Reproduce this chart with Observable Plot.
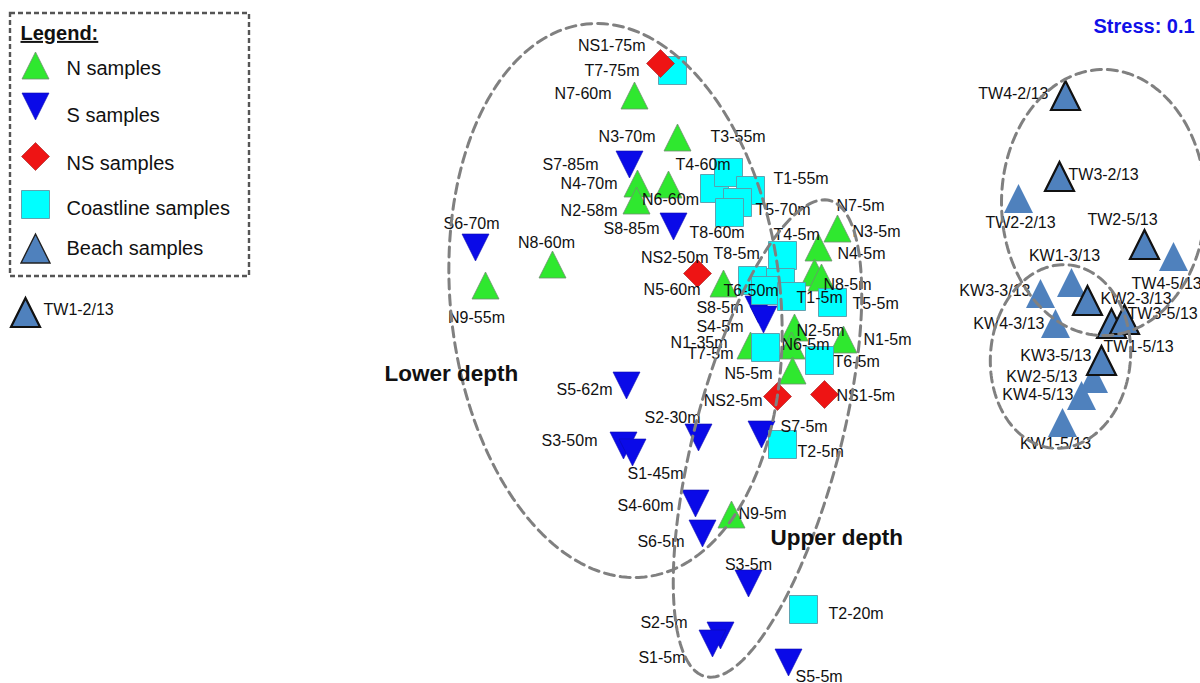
<!DOCTYPE html>
<html><head><meta charset="utf-8">
<script src="https://cdn.jsdelivr.net/npm/d3@7"></script>
<script src="https://cdn.jsdelivr.net/npm/@observablehq/plot@0.6"></script>
<style>html,body{margin:0;padding:0;background:#fff;overflow:hidden}</style>
</head><body><div id="chart"></div>
<script>
// ---- NMDS ordination values (in picture units) ----
const nNames = ["N7-60m","N3-70m","N4-70m","N2-58m","N6-60m","N8-60m","N9-55m","N5-60m","N1-35m",
                "N7-5m","N4-5m","N8-5m","N3-5m","N2-5m","N6-5m","N1-5m","N5-5m","N9-5m"];
const nX = [634,677,637,636,668,552,485,723,750, 837,818,814,821,794,791,843,792,731];
const nY = [ 95,137,183,200,184,264,285,283,345, 228,247,272,277,327,345,339,370,514];

const sNames = ["S7-85m","S8-85m","S6-70m","S5-62m","S3-50m","S1-45m","S2-30m","S4-60m",
                "S6-5m","S8-5m","S4-5m","S7-5m","S3-5m","S2-5m","S1-5m","S5-5m"];
const sX = [629,673,475,626,623,632,698,695, 702,758,763,761,748,720,712,788];
const sY = [164,226,247,385,445,452,437,503, 533,309,319,434,583,635,643,662];

const nsNames = ["NS1-75m","NS2-50m","NS2-5m","NS1-5m"];
const nsX = [660,697,777,824];
const nsY = [ 63,273,396,394];

const tNames = ["T7-75m","T4-60m","T3-55m","T1-55m","T5-70m","T8-60m",
                "T4-5m","T8-5m","T3-5m","T6-50m","T1-5m","T5-5m","T7-5m","T6-5m","T2-5m","T2-20m"];
const tX = [672,714,728,750,737,729, 782,752,780,765,791,832,765,819,782,803];
const tY = [ 70,188,172,190,202,212, 255,280,282,290,296,302,347,360,444,609];

const bNames = ["TW1-2/13","TW4-2/13","TW3-2/13","TW2-2/13","TW2-5/13","TW4-5/13",
                "KW1-3/13","KW3-3/13","KW2-3/13","KW4-3/13","TW1-5/13","TW3-5/13",
                "KW3-5/13","KW2-5/13","KW4-5/13","KW1-5/13"];
const bX = [ 25,1065,1059,1018,1144,1173,1071,1040,1087,1055,1111,1124,1101,1093,1081,1062];
const bY = [312,  95, 176, 198, 244, 256, 282, 293, 300, 323, 323, 319, 360, 378, 395, 422];
const bOutlined = ["TW1-2/13","TW4-2/13","TW3-2/13","TW2-5/13","KW2-3/13","TW1-5/13","TW3-5/13","KW3-5/13"];

const legendLabels = ["N samples","S samples","NS samples","Coastline samples","Beach samples"];
const groupNames = ["Lower depth","Upper depth"];
const stressText = "Stress: 0.1";

// ---- layout (label placement relative to each point: anchor, dx, dy) ----
const labelLayout = {
  "N7-60m":["end",-23,-2],"N3-70m":["end",-22,-1],"N4-70m":["end",-20,0],"N2-58m":["end",-19,10],
  "N6-60m":["middle",2,15],"N8-60m":["middle",-6,-22],"N9-55m":["middle",-9,32],"N5-60m":["end",-23,6],
  "N1-35m":["end",-23,-3],"N7-5m":["start",-1,-23],"N4-5m":["start",19,6],"N8-5m":["start",9,12],
  "N3-5m":["start",31,-46],"N2-5m":["start",2,3],"N6-5m":["start",-10,-1],"N1-5m":["start",20,0],
  "N5-5m":["end",-20,3],"N9-5m":["start",7,-1],
  "S7-85m":["end",-31,0],"S8-85m":["end",-14,2],"S6-70m":["middle",-4,-24],"S5-62m":["end",-14,4],
  "S3-50m":["end",-26,-5],"S1-45m":["start",-5,21],"S2-30m":["middle",-26,-20],"S4-60m":["end",-22,2],
  "S6-5m":["end",-18,8],"S8-5m":["end",-15,-2],"S4-5m":["end",-20,7],"S7-5m":["start",19,-8],
  "S3-5m":["middle",0,-19],"S2-5m":["end",-33,-13],"S1-5m":["end",-27,14],"S5-5m":["start",7,14],
  "NS1-75m":["end",-15,-18],"NS2-50m":["end",11,-16],"NS2-5m":["end",-15,4],"NS1-5m":["start",12,1],
  "T7-75m":["end",-33,0],"T3-55m":["start",-18,-36],"T4-60m":["start",-39,-24],"T1-55m":["start",23,-12],
  "T5-70m":["start",18,7],"T8-60m":["start",-40,20],"T4-5m":["start",-9,-21],"T8-5m":["start",-39,-27],
  "T6-50m":["start",-42,0],"T1-5m":["start",5,1],"T5-5m":["start",20,1],"T7-5m":["end",-32,6],
  "T6-5m":["start",14,1],"T2-5m":["start",15,7],"T2-20m":["start",25,4],
  "TW1-2/13":["start",18,-3],"TW4-2/13":["end",-17,-2],"TW3-2/13":["start",9,-2],"TW2-2/13":["middle",2,24],
  "TW2-5/13":["middle",-22,-25],"TW4-5/13":["start",-42,27],"KW1-3/13":["middle",-7,-27],
  "KW3-3/13":["end",-10,-3],"KW2-3/13":["start",13,-2],"KW4-3/13":["end",-11,0],"TW1-5/13":["middle",27,23],
  "TW3-5/13":["start",3,-6],"KW3-5/13":["end",-10,-5],"KW2-5/13":["end",-16,-2],"KW4-5/13":["end",-8,-1],
  "KW1-5/13":["middle",-7,21]
};
const ellipses = [ // cx, cy, rx, ry, rotation(deg)
  {id:"lower", cx:615, cy:300, rx:165, ry:278, rot:-6},
  {id:"upper", cx:767, cy:438, rx:73,  ry:246, rot:14.7},
  {id:"tw",    cx:1103,cy:202, rx:102, ry:133, rot:0},
  {id:"kw",    cx:1060,cy:356, rx:70,  ry:92,  rot:5}
];
const annotations = [
  {text: groupNames[0], x:384, y:373, anchor:"start"},
  {text: groupNames[1], x:770, y:537, anchor:"start"}
];
const legendSymY = [65,106,156,204,248];
const legendTxtY = [68,115,163,208,248];

// ---- build tables ----
const mk = (names, xs, ys, g) => names.map((n,i)=>({name:n, x:xs[i], y:ys[i], g}));
const N = mk(nNames,nX,nY,"N"), S = mk(sNames,sX,sY,"S"), NS = mk(nsNames,nsX,nsY,"NS"),
      T = mk(tNames,tX,tY,"T"), B = mk(bNames,bX,bY,"B");
const allPts = [...N,...S,...NS,...T,...B];
const labels = allPts.filter(d=>labelLayout[d.name]).map(d=>{
  const [a,dx,dy]=labelLayout[d.name]; return {name:d.name, lx:d.x+dx, ly:d.y+dy, a};
});
const ellPts = ellipses.flatMap(e=>d3.range(0,361,2).map(deg=>{
  const t=deg*Math.PI/180, r=e.rot*Math.PI/180, u=e.rx*Math.cos(t), v=e.ry*Math.sin(t);
  return {id:e.id, x:e.cx+u*Math.cos(r)-v*Math.sin(r), y:e.cy+u*Math.sin(r)+v*Math.cos(r)};
}));
const legendRows = legendLabels.map((l,i)=>({label:l, g:["N","S","NS","T","B"][i], sy:legendSymY[i], ty:legendTxtY[i]}));

// ---- symbols ----
const rr = s => Math.sqrt(s/Math.PI);
const triUp = {draw(c,s){const r=rr(s);c.moveTo(0,-r);c.lineTo(r,r);c.lineTo(-r,r);c.closePath();}};
const triDown = {draw(c,s){const r=rr(s);c.moveTo(-r,-r);c.lineTo(r,-r);c.lineTo(0,r);c.closePath();}};
const sq = {draw(c,s){const r=rr(s);c.rect(-r,-r,2*r,2*r);}};
const dia = {draw(c,s){const r=rr(s);c.moveTo(0,-r);c.lineTo(r,0);c.lineTo(0,r);c.lineTo(-r,0);c.closePath();}};

const style = {
  N:{symbol:triUp, fill:"#2fe82f", stroke:"#6f8f6f", strokeWidth:0.8, r:13.5},
  S:{symbol:triDown, fill:"#0a0ae8", stroke:"#0a0ab0", strokeWidth:0.6, r:13.5},
  NS:{symbol:dia, fill:"#ee1414", stroke:"#a02020", strokeWidth:0.6, r:14},
  T:{symbol:sq, fill:"#00ffff", stroke:"#5a9aa8", strokeWidth:0.9, r:14},
  B:{symbol:triUp, fill:"#4f81bd", stroke:"none", strokeWidth:0, r:14.5}
};
const dotMark = (data, g, extra={}) => Plot.dot(data, {x:"x", y:"y", ...style[g], ...extra});
const font = "Liberation Sans, Arial, Helvetica, sans-serif";

const legendBox = [{x1:10,x2:249,y1:13,y2:276}];

const chart = Plot.plot({
  width:1200, height:683, margin:0,
  x:{domain:[0,1200], range:[0,1200], axis:null},
  y:{domain:[0,683], range:[0,683], axis:null},
  style:{fontFamily:font, background:"#fff", color:"#111"},
  marks:[
    // legend
    Plot.rect(legendBox,{x1:"x1",x2:"x2",y1:"y1",y2:"y2",fill:"none",stroke:"#555",strokeWidth:2.4,strokeDasharray:"5,3"}),
    Plot.text(["Legend:"],{x:20,y:33,text:d=>d,textAnchor:"start",fontSize:20,fontWeight:"bold",fill:"#111"}),
    ...legendRows.map(d=>Plot.dot([d],{x:35,y:"sy",...style[d.g], stroke: d.g==="B"?"#222":style[d.g].stroke, strokeWidth: d.g==="B"?1.4:style[d.g].strokeWidth})),
    Plot.text(legendRows,{x:66,y:"ty",text:"label",textAnchor:"start",fontSize:20,fill:"#111"}),
    // points
    dotMark(N,"N"),
    dotMark(S,"S"),
    dotMark(T,"T"),
    dotMark(NS,"NS"),
    dotMark(B.filter(d=>!bOutlined.includes(d.name)),"B"),
    dotMark(B.filter(d=>bOutlined.includes(d.name)),"B",{stroke:"#111",strokeWidth:2.2}),
    // labels
    ...["start","middle","end"].map(a=>Plot.text(labels.filter(d=>d.a===a),
      {x:"lx",y:"ly",text:"name",textAnchor:a,fontSize:16,fill:"#111"})),
    // group ellipses
    Plot.line(ellPts,{x:"x",y:"y",z:"id",stroke:"#808080",strokeWidth:3,strokeDasharray:"10,6"}),
    Plot.text(annotations,{x:"x",y:"y",text:"text",textAnchor:"start",fontSize:22.5,fontWeight:"bold",fill:"#111"}),
    Plot.text([stressText],{x:1093,y:26,text:d=>d,textAnchor:"start",fontSize:20,fontWeight:"bold",fill:"#1010e8"})
  ]
});
document.getElementById("chart").appendChild(chart);
d3.select(chart).selectAll("text").filter(function(){return d3.select(this).text()==="Legend:";})
  .style("text-decoration","underline");
</script>
</body></html>
